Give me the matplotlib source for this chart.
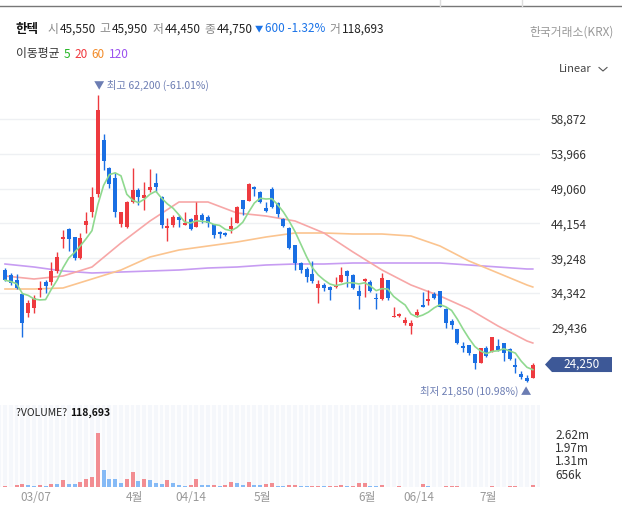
import numpy as np
import pandas as pd
import matplotlib
matplotlib.use("Agg")
import matplotlib.pyplot as plt
from matplotlib.patches import Polygon
from matplotlib.lines import Line2D
import matplotlib.transforms as mtrans

plt.rcParams['font.family'] = ['Noto Sans CJK KR', 'DejaVu Sans']

# ---- data ----
opens = [37600, 36900, 36150, 34200, 31500, 32200, 34750, 35900, 35900, 37450,
         41950, 43350, 42250, 39250, 43950, 45750, 48300, 55900, 51950, 50550,
         44050, 43650, 47150, 48850, 47750, 48850, 49850, 47850, 43500, 43950,
         45050, 43950, 44750, 43650, 45350, 45050, 44050, 42950, 42800, 43350,
         44200, 47450, 47300, 49300, 48600, 46300, 49000, 47000, 44750, 43500,
         41100, 38550, 37700, 37000, 35050, 35450, 35200, 35200, 35900, 37450,
         36900, 34600, 36050, 35900, 33650, 33500, 36150, 30950, 31100, 30150,
         29700, 31250, 32650, 33200, 34200, 34600, 32050, 30400, 29250, 26850,
         27000, 25750, 24450, 26600, 26000, 26850, 27300, 26450, 24200, 22900,
         22350, 22350]
highs = [37850, 37150, 37000, 34300, 33350, 34050, 36050, 36150, 38700, 40100,
         43200, 43500, 42300, 42800, 45750, 49300, 62200, 56750, 52100, 51250,
         45800, 47300, 51950, 49150, 50000, 51800, 51250, 48000, 44900, 45350,
         45350, 45750, 44900, 47150, 45600, 45350, 44100, 43100, 42950, 45050,
         46600, 47500, 49850, 49400, 48700, 47150, 49300, 47100, 44900, 43650,
         41150, 38700, 38000, 38850, 36150, 35750, 35300, 36600, 38000, 37600,
         36950, 35450, 36450, 36150, 34350, 37150, 36200, 32350, 31500, 31000,
         30550, 32050, 34500, 34750, 34500, 34650, 32200, 30650, 29300, 27450,
         27050, 25800, 26650, 26850, 28200, 27850, 27350, 26600, 25150, 23300,
         22750, 24500]
lows = [36050, 35450, 34900, 28150, 30950, 31500, 33750, 34350, 35450, 37150,
        40700, 40250, 39000, 39150, 42800, 45050, 47850, 51700, 49150, 45050,
        43650, 43500, 47000, 46750, 46000, 48600, 48600, 43500, 41650, 43650,
        43650, 43900, 43200, 43600, 44200, 43650, 42100, 42100, 42350, 42800,
        44150, 45350, 47250, 48000, 47000, 45750, 46300, 45050, 43650, 40600,
        37600, 37150, 35900, 35750, 32950, 34600, 33350, 35050, 35850, 35200,
        34950, 32050, 33750, 34450, 32050, 33400, 33350, 30900, 30950, 29800,
        28550, 30950, 32300, 32650, 33500, 32300, 29400, 29250, 27150, 26000,
        25600, 23600, 24400, 25300, 25950, 26150, 24750, 24900, 23050, 22200,
        21850, 22300]
closes = [36150, 35750, 35050, 30100, 32950, 33650, 35050, 35300, 37450, 39400,
          42250, 41950, 39250, 42100, 44500, 47850, 60150, 52950, 49700, 45750,
          45750, 47150, 48850, 47850, 48150, 49300, 49300, 43950, 43800, 45050,
          44650, 44200, 43350, 45350, 44650, 44200, 42500, 42650, 42500, 43800,
          46450, 46200, 49700, 49000, 47150, 45900, 46450, 45500, 43800, 40700,
          38550, 37600, 36600, 36050, 35600, 35050, 34750, 35450, 36900, 36750,
          35050, 33900, 36300, 34600, 33500, 36450, 33650, 31100, 31400, 30600,
          30100, 31650, 32350, 33500, 33650, 32350, 30100, 29800, 27300, 26550,
          25900, 24450, 26600, 25450, 28150, 26300, 25900, 25050, 23900, 22500,
          21950, 24250]
volumes = [66000, 16000, 115000, 164000, 115000, 33000, 115000, 66000, 164000, 150000,
           360000, 164000, 160000, 246000, 410000, 492000, 2660000, 820000, 377000, 370000,
           213000, 377000, 738000, 295000, 377000, 328000, 197000, 164000, 328000, 213000,
           115000, 66000, 115000, 377000, 115000, 110000, 120000, 66000, 82000, 246000,
           213000, 115000, 246000, 115000, 110000, 164000, 197000, 66000, 60000, 115000,
           120000, 50000, 45000, 66000, 70000, 33000, 66000, 70000, 75000, 33000,
           66000, 197000, 200000, 66000, 60000, 115000, 16000, 15000, 66000, 16000,
           20000, 15000, 164000, 66000, 16000, 20000, 33000, 40000, 45000, 16000,
           15000, 14000, 20000, 18000, 25000, 16000, 15000, 60000, 66000, 16000,
           14000, 118693]

# moving averages at these candle positions
ma_idx = [0, 5, 10, 15, 20, 25, 30, 35, 40, 45, 50, 55, 60, 65, 70, 75, 80, 85, 90, 91]
ma20 = [36735, 36312, 36735, 38004, 41388, 44490, 47169, 47169, 45618, 45195,
        44490, 42798, 40119, 37581, 35466, 33915, 32082, 29685, 27570, 27288]
ma60 = [34902, 34902, 35043, 36312, 37581, 39414, 40401, 40965, 41529, 42234,
        42798, 42798, 42657, 42657, 42375, 40965, 38850, 37158, 35466, 35184]
ma120 = [38427, 38004, 37440, 37158, 37299, 37440, 37581, 37863, 38004, 38286,
         38427, 38427, 38568, 38568, 38568, 38568, 38286, 38004, 37722, 37722]

price_ticks = [29436, 34342, 39248, 44154, 49060, 53966, 58872]
vol_ticks = [656000, 1312000, 1968000, 2624000]
vol_tick_labels = ['656k', '1.31m', '1.97m', '2.62m']
date_pos = [5.3, 22.4, 32, 44.4, 62.4, 71.4, 83.3]
date_labels = ['03/07', '4월', '04/14', '5월', '6월', '06/14', '7월']

stock_name = '한텍'
quote_labels = ['시', '고', '저', '종']
quote_values = [45550, 45950, 44450, 44750]
change = 600
change_pct = -1.32
last_volume = 118693
ma_periods = ['5', '20', '60', '120']

RED = '#ee3a3f'
BLUE = '#1a6fe3'
ma_colors = ['#8fd98f', '#f7a7a7', '#fbc48f', '#c79cf2']
ma_text_colors = ['#22b522', '#f0383e', '#f28a28', '#9b52ef']

W, H = 622, 532
def fy(py):
    return 1 - py / H

fig = plt.figure(figsize=(W / 100, H / 100), dpi=100)
renderer = fig.canvas.get_renderer()

idx = np.arange(len(closes))
o = np.array(opens); h = np.array(highs); l = np.array(lows); c = np.array(closes)
up = c >= o
ccol = np.where(up, RED, BLUE)

# ---- price panel ----
ax = fig.add_axes([0, fy(400), 540 / W, (400 - 78) / H])
ax.set_xlim(-0.86, 92.24)
ax.set_ylim(19251, 64653)
for s in ax.spines.values():
    s.set_visible(False)
ax.set_yticks(price_ticks)
ax.set_yticklabels([f'{v:,}' for v in price_ticks])
ax.yaxis.tick_right()
ax.tick_params(axis='y', length=0, pad=8, labelsize=8.5, labelcolor='#333333')
ax.set_xticks([])
ax.grid(axis='y', color='#eef0f3', lw=1)
ax.set_axisbelow(True)

ax.plot(ma_idx, ma120, color=ma_colors[3], lw=1.2, zorder=2)
ax.plot(ma_idx, ma60, color=ma_colors[2], lw=1.2, zorder=2)
ax.plot(ma_idx, ma20, color=ma_colors[1], lw=1.2, zorder=2)

ax.vlines(idx, l, h, colors=ccol, lw=1, zorder=3)
body = np.maximum(np.abs(c - o), 120)
ax.bar(idx, body, bottom=np.minimum(o, c), width=0.72, color=ccol, zorder=4)

ma5 = pd.Series(closes).rolling(5, min_periods=1).mean()
ax.plot(idx, ma5, color=ma_colors[0], lw=1.2, zorder=5)

# high / low markers
hi_i = int(np.argmax(h)); lo_i = int(np.argmin(l))
last = closes[-1]
ax.annotate(f'▼ 최고 {h[hi_i]:,} ({(last / h[hi_i] - 1) * 100:.2f}%)',
            xy=(hi_i, h[hi_i]), xytext=(-3, 3), textcoords='offset points',
            ha='left', va='bottom', fontsize=7.5, color='#6c7db3')
ax.annotate(f'최저 {l[lo_i]:,} ({(last / l[lo_i] - 1) * 100:.2f}%) ▲',
            xy=(lo_i, l[lo_i]), xytext=(3, -3), textcoords='offset points',
            ha='right', va='top', fontsize=7.5, color='#6c7db3')

# last price tag
tr = mtrans.blended_transform_factory(fig.transFigure, ax.transData)
dh = 7.5 * (64653 - 19251) / 322
tag = Polygon([(545 / W, last), (552 / W, last + dh), (612 / W, last + dh),
               (612 / W, last - dh), (552 / W, last - dh)],
              closed=True, transform=tr, facecolor='#3d5897', edgecolor='none',
              clip_on=False)
fig.add_artist(tag)
fig.text(582 / W, last, f'{last:,}', transform=tr, ha='center', va='center',
         color='white', fontsize=8.5)

# ---- volume panel ----
axv = fig.add_axes([0, fy(487), 540 / W, (487 - 405) / H])
axv.set_xlim(-0.86, 92.24)
axv.set_ylim(0, 4.04e6)
axv.set_facecolor('#f5f7fb')
for s in axv.spines.values():
    s.set_visible(False)
axv.vlines(np.arange(-0.5, len(closes)), 0, 4.04e6, colors='white', lw=1.2, zorder=1)
vup = [True] + [volumes[i] > volumes[i - 1] for i in range(1, len(volumes))]
vcol = ['#f28d92' if u else '#85baf6' for u in vup]
axv.bar(idx, volumes, width=0.72, color=vcol, zorder=2)
axv.set_yticks(vol_ticks)
axv.set_yticklabels(vol_tick_labels)
axv.yaxis.tick_right()
axv.tick_params(axis='y', length=0, pad=11, labelsize=8.5, labelcolor='#333333')
axv.set_xticks(date_pos)
axv.set_xticklabels(date_labels)
axv.tick_params(axis='x', length=0, pad=3, labelsize=8.5, labelcolor='#999999')
axv.text(0.03, 0.9, '?VOLUME? ', transform=axv.transAxes, fontsize=7.5,
         color='#222222', va='center', ha='left')
bb = axv.texts[-1].get_window_extent(renderer)
fig.text(bb.x1 / W, (bb.y0 + bb.height / 2) / H, f'{last_volume:,}', fontsize=7.5,
         fontweight='bold', color='#111111', va='center', ha='left')

# ---- header ----
def row(parts, x, y):
    for text, color, weight, size, gap in parts:
        t = fig.text(x / W, fy(y), text, color=color, fontweight=weight,
                     fontsize=size, va='center', ha='left')
        x += t.get_window_extent(renderer).width + gap
    return x

parts = [(stock_name, '#111111', 'bold', 9, 8)]
for lab, val in zip(quote_labels, quote_values):
    parts.append((lab, '#888888', 'normal', 8.5, 1.5))
    parts.append((f'{val:,}', '#222222', 'medium', 8.5, 4))
parts[-1] = (parts[-1][0], parts[-1][1], parts[-1][2], parts[-1][3], 1.5)
parts.append(('▼', '#1a73e8', 'normal', 6, 2))
parts.append((f'{change:,} {change_pct:.2f}%', '#1a73e8', 'normal', 8.5, 4))
parts.append(('거', '#888888', 'normal', 8.5, 1.5))
parts.append((f'{last_volume:,}', '#222222', 'medium', 8.5, 0))
row(parts, 16, 29)

fig.text(614 / W, fy(32), '한국거래소(KRX)', ha='right', va='center',
         fontsize=8.5, color='#999999')

ma_parts = [('이동평균', '#333333', 'normal', 8.5, 4)]
for p, col in zip(ma_periods, ma_text_colors):
    ma_parts.append((p, col, 'normal', 8.5, 4))
row(ma_parts, 16, 54)

fig.text(592 / W, fy(69), 'Linear', ha='right', va='center', fontsize=8, color='#444444')
fig.add_artist(Line2D([599 / W, 603 / W, 607 / W], [fy(67.5), fy(71), fy(67.5)],
                      color='#555555', lw=0.8))

# top separator line
fig.add_artist(Line2D([0, 1], [fy(6), fy(6)], color='#777777', lw=1))
for xs in (440, 522):
    fig.add_artist(Line2D([xs / W, xs / W], [fy(0), fy(6)], color='#dddddd', lw=1))

fig.savefig('out.png', dpi=100, facecolor='white')
